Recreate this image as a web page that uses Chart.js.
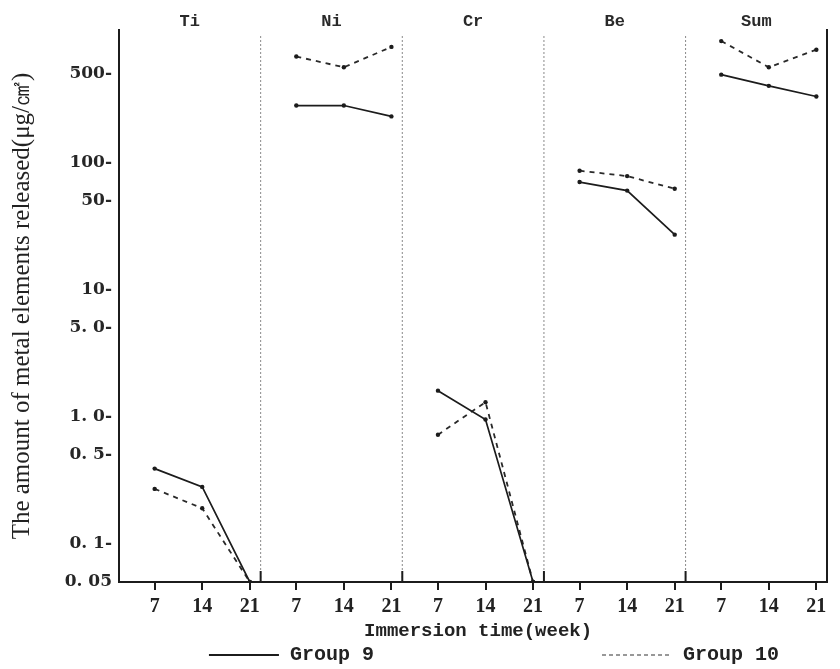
<!DOCTYPE html>
<html>
<head>
<meta charset="utf-8">
<title>Metal elements released</title>
<script src="https://cdn.jsdelivr.net/npm/chart.js@4.4.1/dist/chart.umd.min.js"></script>
<style>
  html, body { margin: 0; padding: 0; background: #fff; }
  #wrap { width: 840px; height: 669px; }
</style>
</head>
<body>
<div id="wrap"><canvas id="release" width="840" height="669"></canvas></div>
<script>
/* ─── Data ─── */
const weeks    = [7, 14, 21];
const elements = ['Ti', 'Ni', 'Cr', 'Be', 'Sum'];

// one row per element, values at 7 / 14 / 21 weeks (μg/cm²)
const group9  = [
  [0.39, 0.28, 0.05],
  [280, 280, 230],
  [1.6, 0.95, 0.05],
  [70, 60, 27],
  [490, 400, 330],
];
const group10 = [
  [0.27, 0.19, 0.05],
  [680, 560, 810],
  [0.72, 1.3, 0.05],
  [86, 78, 62],
  [900, 560, 770],
];

const yTickValues = [0.05, 0.1, 0.5, 1, 5, 10, 50, 100, 500];
const yTickLabels = ['0. 05', '0. 1-', '0. 5-', '1. 0-', '5. 0-', '10-', '50-', '100-', '500-'];

const seriesNames = ['Group 9', 'Group 10'];
const xTitle = 'Immersion time(week)';

/* ─── Styles ─── */
const INK = '#1c1c1c';
const SERIES_STYLE = [
  { color: INK,       width: 1.7, dash: [] },
  { color: '#2a2a2a', width: 1.8, dash: [5, 5] },
];

/* ─── Datasets: two per element panel ─── */
const datasets = [];
elements.forEach((el, i) => {
  [group9, group10].forEach((grp, g) => {
    const st = SERIES_STYLE[g];
    datasets.push({
      label: seriesNames[g],
      xAxisID: 'x' + i,
      yAxisID: 'y',
      data: weeks.map((w, k) => ({ x: w, y: grp[i][k] })),
      borderColor: st.color,
      borderWidth: st.width,
      borderDash: st.dash,
      pointRadius: 2.2,
      pointBackgroundColor: INK,
      pointBorderWidth: 0,
      tension: 0,
    });
  });
});

/* ─── One bottom axis per element, stacked side by side ─── */
const xScales = {};
elements.forEach((el, i) => {
  xScales['x' + i] = {
    type: 'linear',
    position: 'bottom',
    stack: 'panels',
    stackWeight: 1,
    min: 1.75,
    max: 22.6,
    afterBuildTicks: s => { s.ticks = weeks.map(v => ({ value: v })); },
    afterFit: s => { s.height = 59; },
    grid: { drawOnChartArea: false, drawTicks: true, tickLength: 8, color: INK, lineWidth: 2 },
    border: { color: INK, width: 2 },
    ticks: {
      padding: 5,
      color: '#222',
      autoSkip: false,
      maxRotation: 0,
      font: { family: "'Liberation Serif', serif", size: 20, weight: 'bold' },
    },
  };
});

/* ─── Panel dividers, element names, shared x title and legend ─── */
const panelDecor = {
  id: 'panelDecor',
  beforeDatasetsDraw(chart) {
    const { ctx, chartArea } = chart;
    ctx.save();
    for (let i = 0; i < elements.length - 1; i++) {
      const x = chart.scales['x' + i].right;
      ctx.strokeStyle = '#8a8a8a';
      ctx.lineWidth = 1;
      ctx.setLineDash([2, 2]);
      ctx.beginPath();
      ctx.moveTo(x, chartArea.top + 6);
      ctx.lineTo(x, chartArea.bottom);
      ctx.stroke();
      // short solid mark where the divider meets the axis
      ctx.setLineDash([]);
      ctx.strokeStyle = INK;
      ctx.lineWidth = 2;
      ctx.beginPath();
      ctx.moveTo(x, chartArea.bottom - 11);
      ctx.lineTo(x, chartArea.bottom);
      ctx.stroke();
    }
    ctx.restore();
  },
  afterDraw(chart) {
    const { ctx, chartArea } = chart;
    const midX = (chartArea.left + chartArea.right) / 2;
    ctx.save();
    ctx.fillStyle = '#2a2a2a';
    ctx.textAlign = 'center';
    ctx.textBaseline = 'middle';
    ctx.font = "bold 17px 'Liberation Mono', monospace";
    elements.forEach((el, i) => {
      const s = chart.scales['x' + i];
      ctx.fillText(el, (s.left + s.right) / 2, 22);
    });

    // x title spans all panels
    ctx.fillStyle = '#222';
    ctx.font = "bold 19px 'Liberation Mono', monospace";
    ctx.fillText(xTitle, midX + 5, 631);

    // legend: line sample + name for each group
    const starts = [0.127, 0.682];
    const y = 655;
    ctx.font = "bold 20px 'Liberation Mono', monospace";
    ctx.textAlign = 'left';
    seriesNames.forEach((name, g) => {
      const x0 = chartArea.left + starts[g] * (chartArea.right - chartArea.left);
      ctx.strokeStyle = g === 0 ? INK : '#777';
      ctx.lineWidth = g === 0 ? 2 : 1.5;
      ctx.setLineDash(g === 0 ? [] : [4, 3]);
      ctx.beginPath();
      ctx.moveTo(x0, y);
      ctx.lineTo(x0 + 70, y);
      ctx.stroke();
      ctx.fillStyle = '#222';
      ctx.fillText(name, x0 + 81, y);
    });
    ctx.restore();
  },
};

/* ─── Chart ─── */
new Chart(document.getElementById('release'), {
  type: 'line',
  data: { datasets },
  options: {
    responsive: false,
    animation: false,
    layout: { padding: { top: 30, left: 0, right: 5, bottom: 28 } },
    plugins: {
      legend: { display: false },
      tooltip: { enabled: false },
    },
    scales: {
      ...xScales,
      y: {
        type: 'logarithmic',
        position: 'left',
        min: 0.05,
        max: 1100,
        afterBuildTicks: s => { s.ticks = yTickValues.map(v => ({ value: v })); },
        afterFit: s => { s.width = 119; },
        grid: { display: false, drawTicks: false },
        border: { color: INK, width: 2 },
        ticks: {
          padding: 7,
          autoSkip: false,
          color: '#262626',
          font: { family: "'DejaVu Serif', serif", size: 17, weight: 'bold' },
          callback: v => yTickLabels[yTickValues.indexOf(v)],
        },
        title: {
          display: true,
          text: 'The amount of metal elements released(μg/㎠)',
          color: '#222',
          padding: { top: 7, bottom: 0 },
          font: { family: "'Liberation Serif', serif", size: 25 },
        },
      },
      yR: {
        type: 'linear',
        position: 'right',
        min: 0,
        max: 1,
        afterFit: s => { s.width = 0; },
        grid: { display: false, drawTicks: false },
        ticks: { display: false },
        border: { color: INK, width: 2 },
      },
    },
  },
  plugins: [panelDecor],
});
</script>
</body>
</html>
